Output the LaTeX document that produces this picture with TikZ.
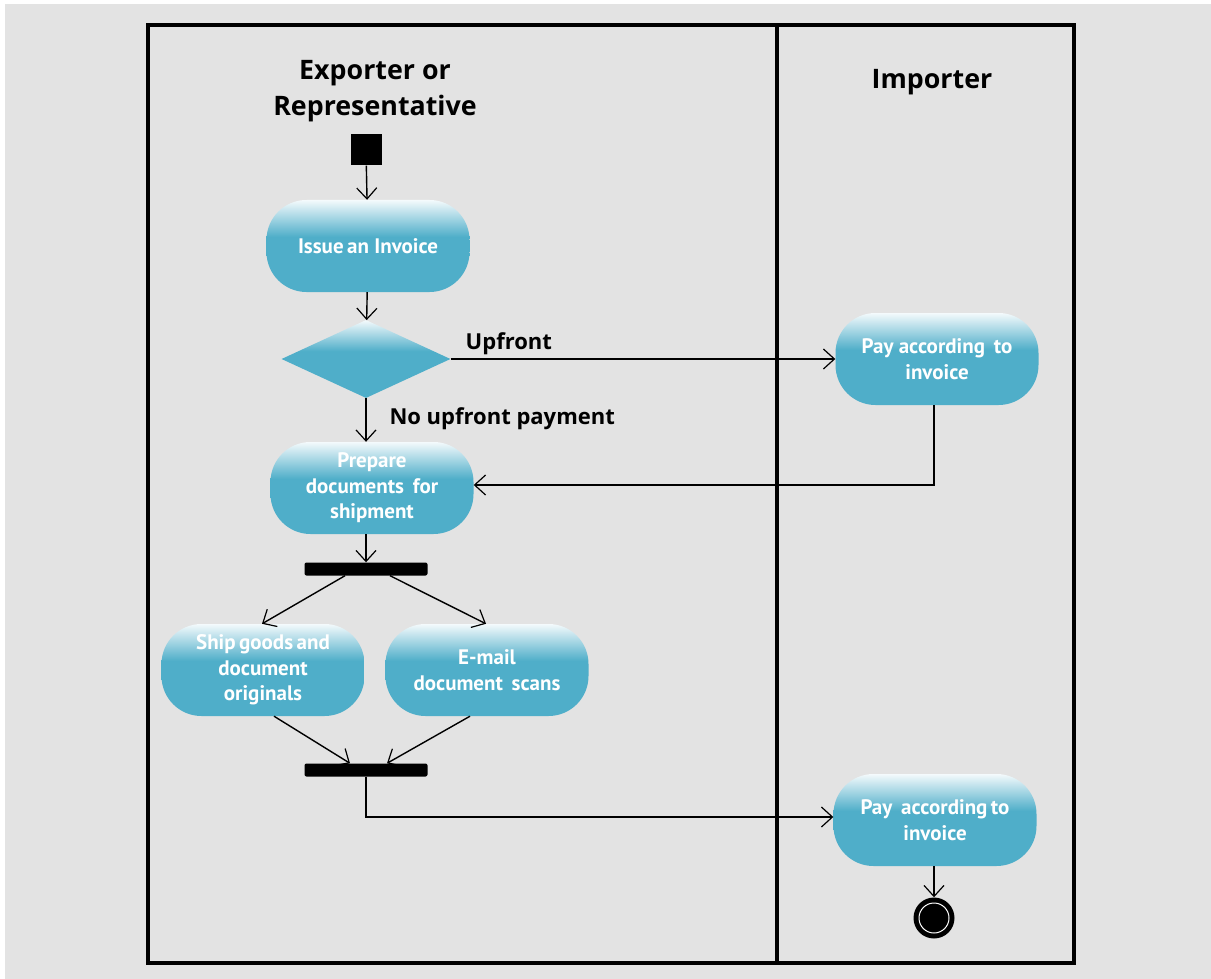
\documentclass[tikz,border=0pt]{standalone}
\usepackage{fontspec}
\setmainfont{PT Sans}
\newfontfamily\headfont{Open Sans}
\usetikzlibrary{arrows.meta,shapes.geometric}
\definecolor{bgc}{HTML}{E3E3E3}
\definecolor{actc}{HTML}{4FAEC9}
\definecolor{actt}{HTML}{F4FAFC}
% activity fill: pale at the very top, full colour from about 40% down
\pgfdeclareverticalshading{actshade}{100bp}{color(0bp)=(actc); color(25bp)=(actc);
  color(55bp)=(actc); color(75bp)=(actt); color(100bp)=(actt)}
\begin{document}
\begin{tikzpicture}[x=1pt,y=-1pt,
  conn/.style={line width=1.4pt,draw=black},
  arr/.style={conn,-{Straight Barb[length=11pt,width=20pt,line width=1.2pt]}},
  action/.style={rounded corners=40pt,minimum width=203pt,minimum height=92pt,
    shading=actshade,text=white,font=\fontsize{21}{25.5}\selectfont\bfseries,
    align=center,inner sep=2pt},
  decision/.style={diamond,minimum width=169pt,minimum height=78pt,inner sep=0pt,
    shading=actshade},
  bar/.style={fill=black,rounded corners=2pt,minimum width=123pt,minimum height=13pt,inner sep=0pt},
  lane/.style={font=\headfont\fontsize{26.8}{36}\selectfont\bfseries,align=center},
  flabel/.style={font=\headfont\fontsize{22}{26}\selectfont\bfseries}]
\useasboundingbox (0,0) rectangle (1211,979);
\fill[white] (0,0) rectangle (1211,979);
\fill[bgc] (5,4) rectangle (1211,979);

% swimlanes
\draw[line width=3.5pt] (148,25) rectangle (1074,963);
\draw[line width=3.5pt] (777,25) -- (777,963);
\node[lane] (lexp) at (375,91) {Exporter or\\Representative};
\node[lane] (limp) at (932,82) {Importer};

% nodes
\node[fill=black,minimum size=31pt,inner sep=0pt] (start) at (366,150) {};
\node[action] (issue) at (368,246) {\raisebox{-3pt}{Issue\,an Invoice}};
\node[decision] (dec) at (366,359) {};
\node[action] (pay1) at (937,359) {Pay according\, to\\invoice};
\node[action] (prep) at (372,488) {Prepare\\documents\, for\\shipment};
\node[bar] (fork) at (366,569) {};
\node[action] (ship) at (263,670) {Ship\,goods\,and\\document\\originals};
\node[action] (email) at (487,670) {E-mail\\document\, scans};
\node[bar] (join) at (366,770) {};
\node[action] (pay2) at (935,820) {Pay\, according\,to\\invoice};
\node[circle,fill=black,minimum size=41pt,inner sep=0pt] (final) at (934,918) {};
\draw[white,line width=1pt] (final) circle (15pt);

% connectors
\draw[arr] (start) -- (issue);
\draw[arr] (issue) -- (dec);
\draw[arr] (dec.east) -- node[flabel,above right,pos=0,xshift=11pt] {Upfront} (pay1.west);
\draw[arr] (dec.south) -- (prep.north -| dec.south);
\node[flabel,anchor=west] (lno) at (386,419) {No upfront payment};
\draw[arr] (pay1.south -| 934,0) |- ([yshift=3pt]prep.east);
\draw[arr] (prep.south -| fork.north) -- (fork.north);
\draw[arr] ([xshift=-21pt]fork.south) -- ([xshift=-1pt]ship.north);
\draw[arr] ([xshift=24pt]fork.south) -- ([xshift=-1pt]email.north);
\draw[arr] ([xshift=11pt]ship.south) -- ([xshift=-16pt]join.north);
\draw[arr] ([xshift=-17pt]email.south) -- ([xshift=21pt]join.north);
\draw[arr] (join.south) |- ([yshift=3pt]pay2.west);
\draw[arr] (pay2.south -| final.north) -- (final.north);
\end{tikzpicture}
\end{document}
